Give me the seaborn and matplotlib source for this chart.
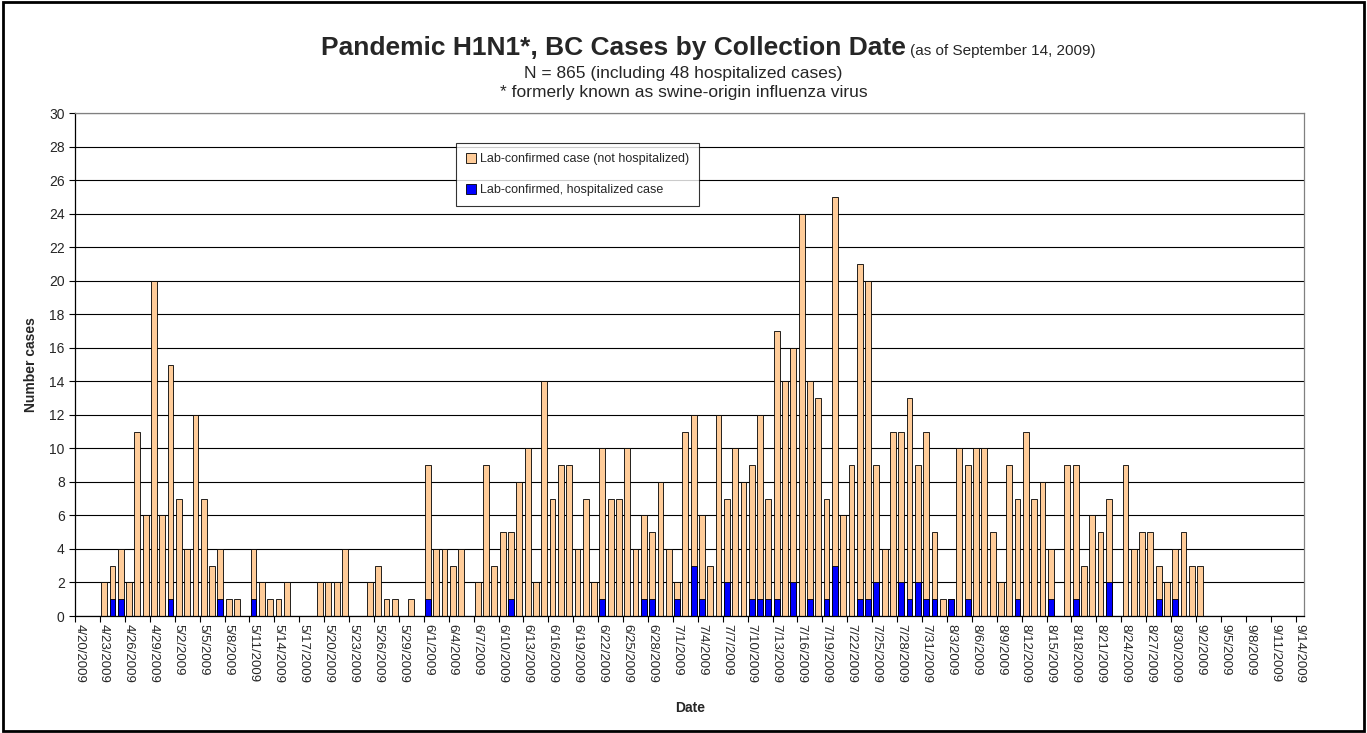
import pandas as pd
import matplotlib
matplotlib.use('Agg')
import matplotlib.pyplot as plt
from matplotlib.patches import Patch, Rectangle
import seaborn as sns

sns.set_style('white')
plt.rcParams['font.family'] = ['Liberation Sans', 'DejaVu Sans']

# Casos por fecha de recolección (4/20/2009 - 9/14/2009)
fechas = pd.date_range('2009-04-20', '2009-09-14', freq='D')
etiquetas = [f"{d.month}/{d.day}/{d.year}" for d in fechas]

total = [0, 0, 0, 2, 3, 4, 2, 11, 6, 20, 6, 15, 7, 4, 12, 7, 3, 4, 1, 1,      # 4/20 - 5/9
         0, 4, 2, 1, 1, 2, 0, 0, 0, 2, 2, 2, 4, 0, 0, 2, 3, 1, 1, 0,          # 5/10 - 5/29
         1, 0, 9, 4, 4, 3, 4, 0, 2, 9, 3, 5, 5, 8, 10, 2, 14, 7, 9, 9,        # 5/30 - 6/18
         4, 7, 2, 10, 7, 7, 10, 4, 6, 5, 8, 4, 2, 11, 12, 6, 3, 12, 7, 10,    # 6/19 - 7/8
         8, 9, 12, 7, 17, 14, 16, 24, 14, 13, 7, 25, 6, 9, 21, 20, 9, 4, 11, 11,  # 7/9 - 7/28
         13, 9, 11, 5, 1, 1, 10, 9, 10, 10, 5, 2, 9, 7, 11, 7, 8, 4, 0, 9,    # 7/29 - 8/17
         9, 3, 6, 5, 7, 0, 9, 4, 5, 5, 3, 2, 4, 5, 3, 3, 0, 0, 0, 0,          # 8/18 - 9/6
         0, 0, 0, 0, 0, 0, 0, 0]                                              # 9/7 - 9/14

hospitalizados = [0, 0, 0, 0, 1, 1, 0, 0, 0, 0, 0, 1, 0, 0, 0, 0, 0, 1, 0, 0,
                  0, 1, 0, 0, 0, 0, 0, 0, 0, 0, 0, 0, 0, 0, 0, 0, 0, 0, 0, 0,
                  0, 0, 1, 0, 0, 0, 0, 0, 0, 0, 0, 0, 1, 0, 0, 0, 0, 0, 0, 0,
                  0, 0, 0, 1, 0, 0, 0, 0, 1, 1, 0, 0, 1, 0, 3, 1, 0, 0, 2, 0,
                  0, 1, 1, 1, 1, 0, 2, 0, 1, 0, 1, 3, 0, 0, 1, 1, 2, 0, 0, 2,
                  1, 2, 1, 1, 0, 1, 0, 1, 0, 0, 0, 0, 0, 1, 0, 0, 0, 1, 0, 0,
                  1, 0, 0, 0, 2, 0, 0, 0, 0, 0, 1, 0, 1, 0, 0, 0, 0, 0, 0, 0,
                  0, 0, 0, 0, 0, 0, 0, 0]

df = pd.DataFrame({'fecha': etiquetas, 'total': total, 'hosp': hospitalizados})

fig = plt.figure(figsize=(13.67, 7.33), dpi=100)
ax = fig.add_axes([0.0549, 0.1596, 0.8990, 0.6862])

# Barras: total (naranja) y hospitalizados (azul) abajo
sns.barplot(data=df, x='fecha', y='total', order=etiquetas, color='#FFCC99',
            saturation=1, width=0.7, edgecolor='black', linewidth=0.6, ax=ax)
sns.barplot(data=df, x='fecha', y='hosp', order=etiquetas, color='#0000FF',
            saturation=1, width=0.7, edgecolor='black', linewidth=0.6, ax=ax)

ax.set_xlim(-0.5, len(etiquetas) - 0.5)
ax.set_ylim(0, 30)
ax.set_yticks(range(0, 31, 2))
ax.tick_params(axis='y', labelsize=10, length=4, width=0.8, direction='out', left=True, color='black')
ax.yaxis.grid(True, color='black', linewidth=0.8)
ax.set_axisbelow(True)

# Etiquetas cada 3 días, marcas en el borde de la categoría
pos = list(range(0, len(etiquetas), 3))
ax.set_xticks(pos)
ax.set_xticklabels([etiquetas[i] for i in pos], rotation=-90, fontsize=9.5)
ax.tick_params(axis='x', which='major', length=0, pad=6)
ax.set_xticks([p - 0.5 for p in pos], minor=True)
ax.tick_params(axis='x', which='minor', length=4, width=0.8, direction='out', bottom=True, color='black')

ax.set_xlabel('')
ax.set_ylabel('')
for s in ['left', 'bottom']:
    ax.spines[s].set_color('black')
    ax.spines[s].set_linewidth(0.9)
for s in ['right', 'top']:
    ax.spines[s].set_color('#808080')
    ax.spines[s].set_linewidth(0.9)

handles = [Patch(facecolor='#FFCC99', edgecolor='black', linewidth=0.6),
           Patch(facecolor='#0000FF', edgecolor='black', linewidth=0.6)]
leg = ax.legend(handles, ['Lab-confirmed case (not hospitalized)', 'Lab-confirmed, hospitalized case'],
                loc='upper left', bbox_to_anchor=(0.31, 0.94), fontsize=9, frameon=True,
                fancybox=False, edgecolor='black', handlelength=0.8, handleheight=0.8,
                handletextpad=0.3, labelspacing=1.5, borderpad=0.8, borderaxespad=0)
leg.get_frame().set_linewidth(0.8)

# Títulos
fig.text(0.6625, 0.925, 'Pandemic H1N1*, BC Cases by Collection Date', fontsize=19,
         fontweight='bold', ha='right', va='baseline')
fig.text(0.6655, 0.925, '(as of September 14, 2009)', fontsize=11, ha='left', va='baseline')
fig.text(0.5, 0.900, 'N = 865 (including 48 hospitalized cases)', fontsize=12.5, ha='center', va='center')
fig.text(0.5, 0.874, '* formerly known as swine-origin influenza virus', fontsize=12.5, ha='center', va='center')
fig.text(0.023, 0.502, 'Number cases', fontsize=10, fontweight='bold', rotation=90, ha='center', va='center')
fig.text(0.505, 0.034, 'Date', fontsize=10, fontweight='bold', ha='center', va='center')

# Marco exterior
fig.patches.append(Rectangle((0.002, 0.003), 0.996, 0.994, transform=fig.transFigure,
                             fill=False, edgecolor='black', linewidth=2))

fig.savefig('out.png', dpi=100)
